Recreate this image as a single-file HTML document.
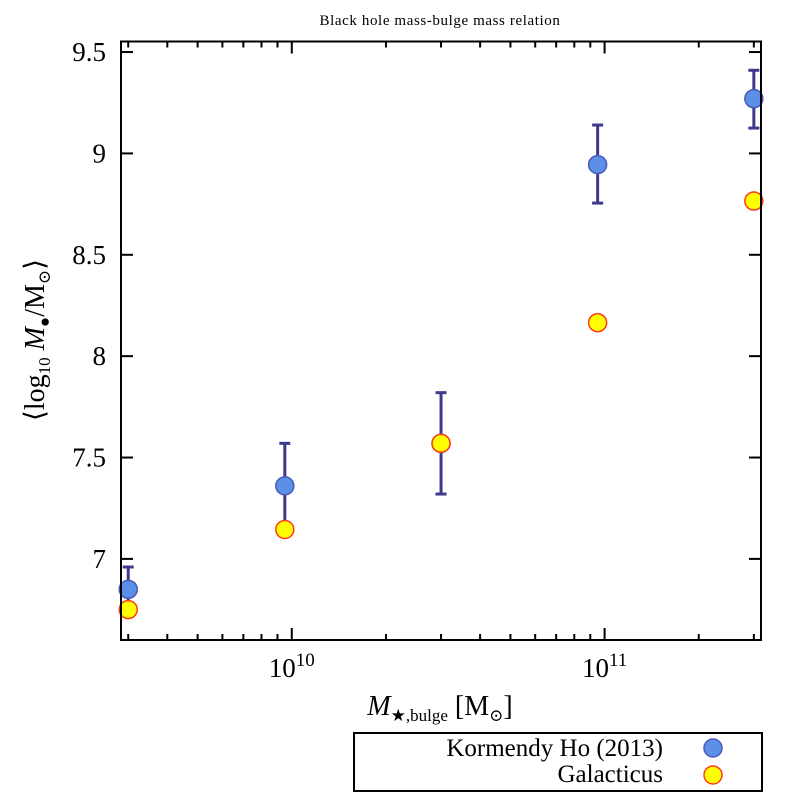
<!DOCTYPE html>
<html><head><meta charset="utf-8">
<style>
body{margin:0;background:#fff;}
svg{display:block;font-family:"Liberation Serif","DejaVu Serif",serif;}
</style></head>
<body>
<svg id="chart" width="800" height="800" viewBox="0 0 800 800" xmlns="http://www.w3.org/2000/svg">
<rect width="800" height="800" fill="#fff"/>
<text x="440" y="25" font-size="15" letter-spacing="0.6" text-anchor="middle">Black hole mass-bulge mass relation</text>
<g id="marks"></g>
<rect x="121" y="41.5" width="640" height="598.5" fill="none" stroke="#000" stroke-width="2"/>
<g id="axes"></g>
<text x="440" y="715" font-size="28" text-anchor="middle"><tspan font-style="italic">M</tspan><tspan font-size="17" dy="6">★,bulge</tspan><tspan dy="-6"> [M</tspan><tspan font-size="17" dy="6">⊙</tspan><tspan dy="-6">]</tspan></text>
<text transform="translate(44,340) rotate(-90)" font-size="28" text-anchor="middle">⟨log<tspan font-size="17" dy="6">10</tspan><tspan dy="-6" font-style="italic"> M</tspan><tspan font-size="17" dy="6">●</tspan><tspan dy="-6">/M</tspan><tspan font-size="17" dy="6">⊙</tspan><tspan dy="-6">⟩</tspan></text>
<g>
<rect x="354" y="733" width="408" height="58" fill="#fff" stroke="#000" stroke-width="2"/>
<text x="663" y="756" font-size="25" text-anchor="end">Kormendy  Ho (2013)</text>
<circle cx="713" cy="748" r="9" fill="#5b8fe8" stroke="#4a5bb5" stroke-width="1.5"/>
<text x="663" y="782" font-size="25" text-anchor="end">Galacticus</text>
<circle cx="713" cy="775" r="9" fill="#ffff00" stroke="#ff3a1a" stroke-width="1.5"/>
</g>
</svg>
<script>
const xMass = [3e9, 9.5e9, 3e10, 9.5e10, 3e11];
const kormendyY = [6.85, 7.36, 7.57, 8.945, 9.27];
const kormendyErrLow = [6.74, 7.15, 7.32, 8.755, 9.125];
const kormendyErrHigh = [6.96, 7.57, 7.82, 9.14, 9.41];
const galacticusY = [6.75, 7.145, 7.57, 8.165, 8.765];
const yTicks = [7, 7.5, 8, 8.5, 9, 9.5];
const yTickLabels = ["7", "7.5", "8", "8.5", "9", "9.5"];
const xMajorTicks = [10, 11];
const xTickLabels = ["10", "11"];

const NS = "http://www.w3.org/2000/svg";
const L = 121, R = 761, T = 41.5, B = 640;
const xMin = 9.454, xMax = 11.5, yMin = 6.6, yMax = 9.552;
function xs(v){ return L + (Math.log10(v) - xMin) / (xMax - xMin) * (R - L); }
function xl(lg){ return L + (lg - xMin) / (xMax - xMin) * (R - L); }
function ys(v){ return B - (v - yMin) / (yMax - yMin) * (B - T); }
function mk(tag, attrs, parent){
  const e = document.createElementNS(NS, tag);
  for (const k in attrs) e.setAttribute(k, attrs[k]);
  parent.appendChild(e); return e;
}
const axes = document.getElementById('axes');
const marks = document.getElementById('marks');

yTicks.forEach((v, i) => {
  const y = ys(v);
  const t1 = mk('line', {x1: L, x2: L + 12, y1: y, y2: y, stroke: '#000', 'stroke-width': 2}, axes);
  
  
  const t2 = mk('line', {x1: R - 12, x2: R, y1: y, y2: y, stroke: '#000', 'stroke-width': 2}, axes);
  
  
  const lb = mk('text', {x: 106, y: y + 9, 'font-size': 27, 'text-anchor': 'end'}, axes);
  lb.textContent = yTickLabels[i];
  
  
});

for (let d = 9; d <= 11; d++) {
  for (let m = 1; m <= 9; m++) {
    const lg = d + Math.log10(m);
    if (lg < xMin || lg > xMax) continue;
    const x = xl(lg);
    const len = m === 1 ? 12 : 6;
    const a = mk('line', {x1: x, x2: x, y1: B, y2: B - len, stroke: '#000', 'stroke-width': 2}, axes);
    
    
    const b = mk('line', {x1: x, x2: x, y1: T, y2: T + len, stroke: '#000', 'stroke-width': 2}, axes);
    
    
  }
}
xMajorTicks.forEach((d, i) => {
  const x = xl(d);
  const t = mk('text', {x: x, y: 677, 'font-size': 27, 'text-anchor': 'middle'}, axes);
  
  
  const base = document.createElementNS(NS, 'tspan'); base.textContent = '10'; t.appendChild(base);
  const sup = document.createElementNS(NS, 'tspan');
  sup.setAttribute('font-size', 19); sup.setAttribute('dy', -11);
  sup.textContent = xTickLabels[i]; t.appendChild(sup);
});

xMass.forEach((m, i) => {
  const x = xs(m);
  const lo = ys(kormendyErrLow[i]), hi = ys(kormendyErrHigh[i]);
  const g = mk('g', {stroke: '#3d3a8c', 'stroke-width': 3}, marks);
  
  
  mk('line', {x1: x, x2: x, y1: lo, y2: hi}, g);
  mk('line', {x1: x - 5.5, x2: x + 5.5, y1: lo, y2: lo}, g);
  mk('line', {x1: x - 5.5, x2: x + 5.5, y1: hi, y2: hi}, g);
});
xMass.forEach((m, i) => {
  const c = mk('circle', {cx: xs(m), cy: ys(kormendyY[i]), r: 9, fill: '#5b8fe8', stroke: '#4a5bb5', 'stroke-width': 1.5}, marks);
  
  
});
xMass.forEach((m, i) => {
  const c = mk('circle', {cx: xs(m), cy: ys(galacticusY[i]), r: 9, fill: '#ffff00', stroke: '#ff3a1a', 'stroke-width': 1.5}, marks);
  
  
});
</script>
</body></html>
